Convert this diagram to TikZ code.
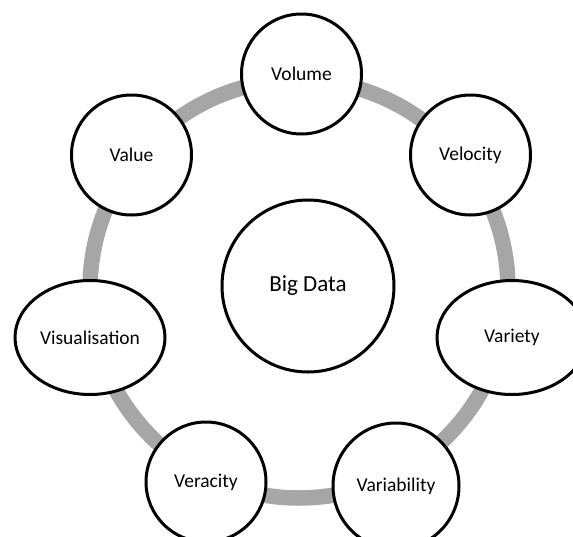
\documentclass[tikz,border=0pt]{standalone}
\usepackage{fontspec}
\setmainfont{Carlito}
\usetikzlibrary{shapes.geometric}
\definecolor{ringgray}{RGB}{166,166,166}
\begin{document}
\begin{tikzpicture}[x=1pt,y=-1pt,
  bub/.style={circle,draw=black,line width=3pt,fill=white,inner sep=0pt,
    minimum size=120pt,font=\fontsize{19.5}{22}\selectfont},
  oval/.style={ellipse,draw=black,line width=3pt,fill=white,inner sep=0pt,
    minimum width=150pt,minimum height=114pt,font=\fontsize{19.5}{22}\selectfont},
  hub/.style={circle,draw=black,line width=3pt,fill=white,inner sep=0pt,
    minimum size=172pt,font=\fontsize{23}{26}\selectfont},
  ring/.style={draw=ringgray,line width=15.5pt}]
\useasboundingbox (0,0) rectangle (573,536);
\coordinate (ringc) at (299,289);
\draw[ring] (ringc) circle[radius=209];
\node[hub] (big) at (308,286) {Big Data};
\node[bub] (volume) at (301.5,74) {Volume};
\node[bub] (velocity) at (470.5,155) {Velocity};
\node[bub] (value) at (131.5,155) {Value};
\node[oval] (visual) at (90,337.5) {Visualisation};
\node[oval] (variety) at (512,337.5) {Variety};
\node[bub] (veracity) at (206,482) {Veracity};
\node[bub,minimum size=126pt] (variab) at (396,486) {Variability};
\end{tikzpicture}
\end{document}
